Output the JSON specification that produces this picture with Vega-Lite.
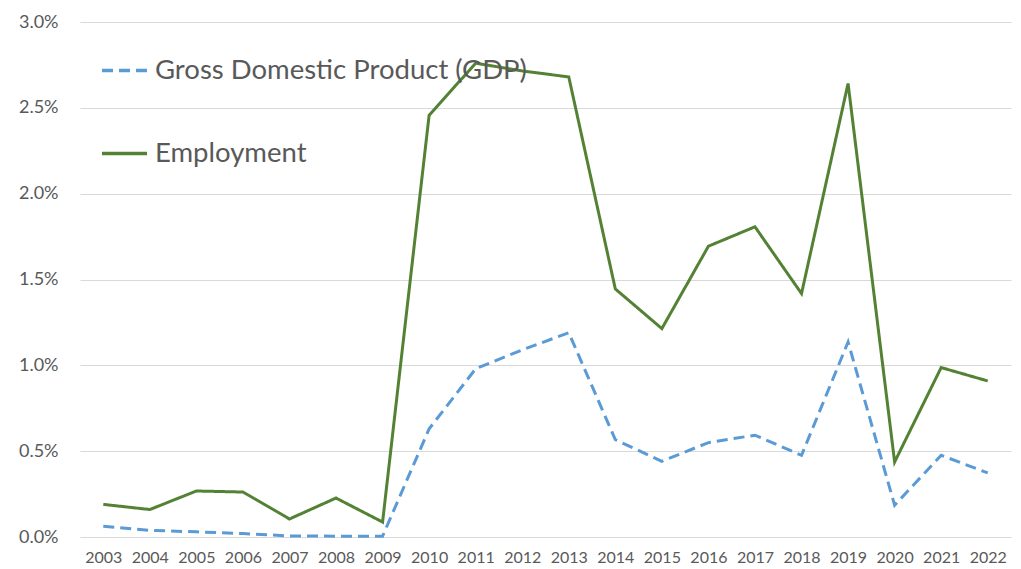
{
  "$schema": "https://vega.github.io/schema/vega-lite/v6.json",
  "width": 931,
  "height": 515,
  "autosize": {"type": "none"},
  "padding": {"left": 80, "top": 22, "right": 10, "bottom": 32},
  "background": "white",
  "config": {
    "view": {"stroke": null},
    "font": "Lato"
  },
  "data": {
    "values": [
      {"year": "2003", "series": "Gross Domestic Product (GDP)", "value": 0.062},
      {"year": "2004", "series": "Gross Domestic Product (GDP)", "value": 0.039},
      {"year": "2005", "series": "Gross Domestic Product (GDP)", "value": 0.03},
      {"year": "2006", "series": "Gross Domestic Product (GDP)", "value": 0.02},
      {"year": "2007", "series": "Gross Domestic Product (GDP)", "value": 0.006},
      {"year": "2008", "series": "Gross Domestic Product (GDP)", "value": 0.005},
      {"year": "2009", "series": "Gross Domestic Product (GDP)", "value": 0.005},
      {"year": "2010", "series": "Gross Domestic Product (GDP)", "value": 0.63},
      {"year": "2011", "series": "Gross Domestic Product (GDP)", "value": 0.98},
      {"year": "2012", "series": "Gross Domestic Product (GDP)", "value": 1.09},
      {"year": "2013", "series": "Gross Domestic Product (GDP)", "value": 1.19},
      {"year": "2014", "series": "Gross Domestic Product (GDP)", "value": 0.567},
      {"year": "2015", "series": "Gross Domestic Product (GDP)", "value": 0.441},
      {"year": "2016", "series": "Gross Domestic Product (GDP)", "value": 0.55},
      {"year": "2017", "series": "Gross Domestic Product (GDP)", "value": 0.593},
      {"year": "2018", "series": "Gross Domestic Product (GDP)", "value": 0.476},
      {"year": "2019", "series": "Gross Domestic Product (GDP)", "value": 1.136},
      {"year": "2020", "series": "Gross Domestic Product (GDP)", "value": 0.185},
      {"year": "2021", "series": "Gross Domestic Product (GDP)", "value": 0.476},
      {"year": "2022", "series": "Gross Domestic Product (GDP)", "value": 0.373},
      {"year": "2003", "series": "Employment", "value": 0.19},
      {"year": "2004", "series": "Employment", "value": 0.16},
      {"year": "2005", "series": "Employment", "value": 0.268},
      {"year": "2006", "series": "Employment", "value": 0.262},
      {"year": "2007", "series": "Employment", "value": 0.105},
      {"year": "2008", "series": "Employment", "value": 0.227},
      {"year": "2009", "series": "Employment", "value": 0.087},
      {"year": "2010", "series": "Employment", "value": 2.457},
      {"year": "2011", "series": "Employment", "value": 2.76},
      {"year": "2012", "series": "Employment", "value": 2.715},
      {"year": "2013", "series": "Employment", "value": 2.68},
      {"year": "2014", "series": "Employment", "value": 1.445},
      {"year": "2015", "series": "Employment", "value": 1.214},
      {"year": "2016", "series": "Employment", "value": 1.694},
      {"year": "2017", "series": "Employment", "value": 1.807},
      {"year": "2018", "series": "Employment", "value": 1.418},
      {"year": "2019", "series": "Employment", "value": 2.642},
      {"year": "2020", "series": "Employment", "value": 0.437},
      {"year": "2021", "series": "Employment", "value": 0.987},
      {"year": "2022", "series": "Employment", "value": 0.909}
    ]
  },
  "mark": {"type": "line", "strokeWidth": 3, "strokeCap": "butt", "strokeJoin": "miter"},
  "encoding": {
    "x": {
      "field": "year",
      "type": "ordinal",
      "scale": {"type": "point", "padding": 0.5},
      "axis": {
        "title": null,
        "labelAngle": 0,
        "domain": false,
        "ticks": false,
        "labelFontSize": 16,
        "labelColor": "#595959",
        "labelPadding": 12
      }
    },
    "y": {
      "field": "value",
      "type": "quantitative",
      "scale": {"domain": [0, 3], "nice": false},
      "axis": {
        "title": null,
        "values": [0, 0.5, 1, 1.5, 2, 2.5, 3],
        "labelExpr": "format(datum.value, '.1f') + '%'",
        "domain": false,
        "ticks": false,
        "grid": true,
        "gridColor": "#d9d9d9",
        "gridWidth": 1.2,
        "labelFontSize": 18,
        "labelColor": "#595959",
        "labelPadding": 22
      }
    },
    "color": {
      "field": "series",
      "type": "nominal",
      "scale": {
        "domain": ["Gross Domestic Product (GDP)", "Employment"],
        "range": ["#5B9BD5", "#548235"]
      },
      "legend": {
        "title": null,
        "orient": "none",
        "legendX": 20,
        "legendY": 24,
        "zindex": 0,
        "symbolType": "stroke",
        "symbolSize": 2025,
        "symbolStrokeWidth": 3.5,
        "labelFontSize": 27.5,
        "labelColor": "#595959",
        "labelOffset": 6,
        "rowPadding": 45,
        "labelLimit": 600
      }
    },
    "strokeDash": {
      "field": "series",
      "type": "nominal",
      "scale": {
        "domain": ["Gross Domestic Product (GDP)", "Employment"],
        "range": [[11, 6], [1, 0]]
      },
      "legend": {
        "title": null,
        "orient": "none",
        "legendX": 20,
        "legendY": 24,
        "zindex": 0,
        "symbolType": "stroke",
        "symbolSize": 2025,
        "symbolStrokeWidth": 3.5,
        "labelFontSize": 27.5,
        "labelColor": "#595959",
        "labelOffset": 6,
        "rowPadding": 45,
        "labelLimit": 600
      }
    }
  }
}
